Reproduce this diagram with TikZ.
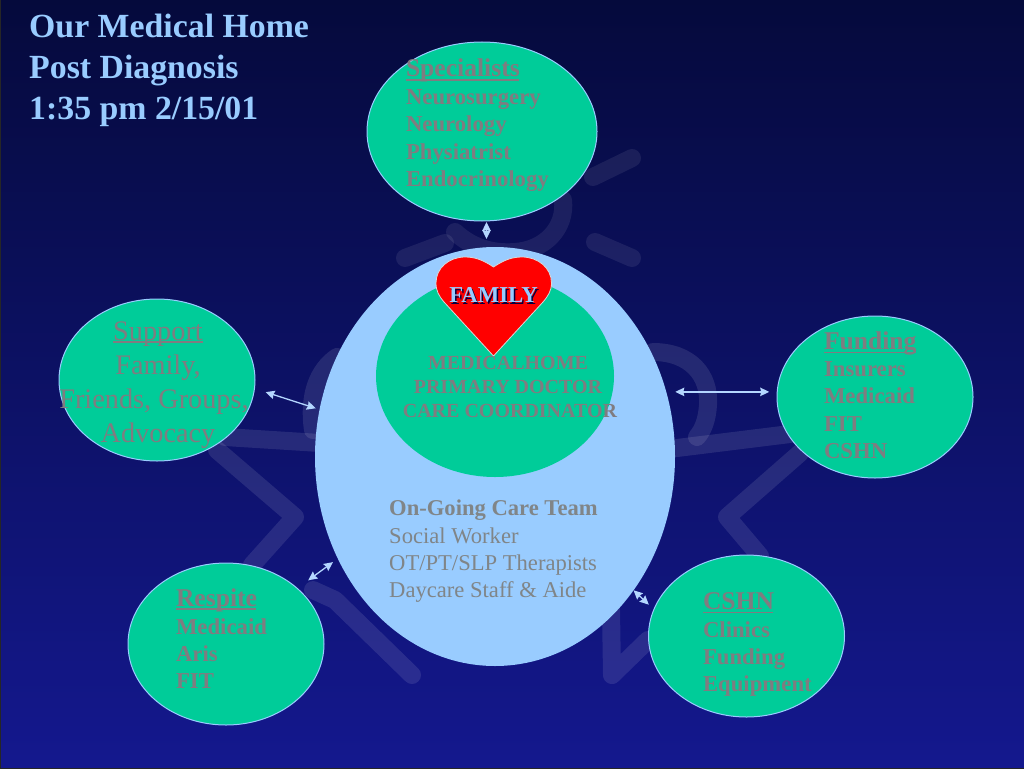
\documentclass[tikz,border=0pt]{standalone}
\usepackage{fontspec}
\setmainfont{Liberation Serif}
\usetikzlibrary{shapes.geometric,arrows.meta}
\definecolor{bgtop}{HTML}{050A3C}
\definecolor{bgmid}{HTML}{10157E}
\definecolor{bgbot}{HTML}{14188E}
\definecolor{teal}{HTML}{00CC99}
\definecolor{sky}{HTML}{99CCFF}
\definecolor{txtgray}{HTML}{807C80}
\definecolor{biggray}{HTML}{808588}
\definecolor{arrowblue}{HTML}{B4D6FF}
\newcommand{\fs}[2]{\fontsize{#1pt}{#2pt}\selectfont}
\tikzset{
  blob/.style={ellipse,draw=sky,line width=1pt,fill=teal,inner sep=0pt,outer sep=0pt},
  smallblob/.style={blob,minimum width=196pt,minimum height=162pt},
  listtext/.style={inner sep=0pt,outer sep=0pt,anchor=north west,align=left,text=txtgray,font=\fs{22.75}{27.3}\bfseries},
  biarrow/.style={draw=arrowblue,line width=1.3pt,{Stealth[length=9pt,width=8.5pt,inset=1pt]}-{Stealth[length=9pt,width=8.5pt,inset=1pt]}},
  ghost/.style={draw=white,draw opacity=.1,line width=18pt,line cap=round,line join=round},
  headrule/.style={draw=txtgray,line width=1.5pt},
}
\begin{document}
\begin{tikzpicture}[x=1pt,y=-1pt]
\useasboundingbox (0,0) rectangle (1024,768);
% background
\shade[top color=bgtop,middle color=bgmid,bottom color=bgbot] (0,0) rectangle (1024,768);
\draw[black!85,line width=1pt] (0,0) rectangle (1024,768);
% watermark figure
\draw[ghost,draw opacity=.08] (563,200) .. controls (566,228) and (545,250) .. (515,252) .. controls (490,254) and (470,246) .. (455,232);
\draw[ghost,draw opacity=.08] (632,158) -- (593,177);
\draw[ghost,draw opacity=.08] (595,242) -- (632,258);
\draw[ghost,draw opacity=.08] (405,258) -- (445,243);
\draw[ghost] (653,352) .. controls (690,352) and (710,375) .. (708,405) .. controls (707,420) and (703,430) .. (697,437);
\draw[ghost] (677,448) -- (790,434);
\draw[ghost] (800,453) -- (727,517) -- (760,556);
\draw[ghost] (337,357) .. controls (318,370) and (308,395) .. (313,430);
\draw[ghost] (225,437) -- (320,443);
\draw[ghost] (217,450) -- (295,517) -- (252,565);
\draw[ghost] (313,590) -- (335,600) -- (412,675);
\draw[ghost] (611,610) -- (612,675) -- (648,640);
% main circles
\node[blob,draw=none,fill=sky,minimum width=360pt,minimum height=419pt] (big) at (495,456.5) {};
\node[blob,draw=none,minimum width=238pt,minimum height=202pt] (medhome) at (495,376) {};
\node[blob,minimum width=230pt,minimum height=179pt] (specialists) at (482,131.5) {};
\node[smallblob] (support) at (157,380) {};
\node[smallblob] (funding) at (875,397) {};
\node[smallblob] (respite) at (226,644) {};
\node[smallblob] (cshn) at (746.5,636) {};
% heart
\filldraw[fill=red,draw=black!15!white,line width=.8pt] (493.5,267)
  .. controls (483,260) and (475,257) .. (465,257)
  .. controls (449,257) and (436,268) .. (436,283)
  .. controls (436,291) and (439,296) .. (444,302)
  -- (493.5,356) -- (543,302)
  .. controls (548,296) and (551.5,291) .. (551.5,283)
  .. controls (551.5,268) and (538,257) .. (522,257)
  .. controls (512,257) and (504,260) .. (493.5,267) -- cycle;
% connectors
\draw[biarrow,shorten <=1pt,shorten >=8pt] ([xshift=4.5pt]specialists.south) -- ([xshift=-8.5pt]big.north);
\draw[biarrow,shorten <=11.7pt,shorten >=4pt] (support.-5.2) -- (big.165.1);
\draw[biarrow,shorten <=8.5pt,shorten >=8pt] (big.20.7 |- funding.177.6) -- (funding.177.6);
\draw[biarrow,shorten <=13.6pt,shorten >=6pt] (respite.38.8) -- (big.213.3);
\draw[biarrow,shorten <=0pt,shorten >=7pt] (big.-44.2) -- (cshn.164.5);
% texts
\node[inner sep=0pt,anchor=north west,align=left,text=sky,font=\fs{33.8}{41}\bfseries] (title) at (29,14) {Our Medical Home\\Post Diagnosis\\1:35 pm 2/15/01};
\node[listtext] (spectext) at (406,58.5) {{\fs{25.6}{27.3}Specialists}\\[1pt]Neurosurgery\\Neurology\\Physiatrist\\Endocrinology};
\node[listtext] (fundtext) at (824,331.5) {{\fs{25.6}{27.3}Funding}\\Insurers\\Medicaid\\FIT\\CSHN};
\node[listtext] (resptext) at (176,589) {{\fs{25.6}{27.3}Respite}\\Medicaid\\Aris\\FIT};
\node[listtext] (cshntext) at (703,593) {{\fs{25.6}{27.3}CSHN}\\Clinics\\Funding\\Equipment};
\node[inner sep=0pt,anchor=north,align=center,text=txtgray,font=\fs{28.3}{34}] (supptext) at (158,322) {Support\\Family,\\Friends, Groups,\kern8pt\\Advocacy};
\node[inner sep=0pt,anchor=north,align=center,text=txtgray,font=\fs{20}{24}\bfseries] (medtext) at (510,356) {MEDICALHOME\kern4pt\\PRIMARY DOCTOR\kern4pt\\CARE COORDINATOR};
\node[inner sep=0pt,anchor=north west,align=left,text=biggray,font=\fs{22.6}{27.3}] (teamtext) at (389,500) {\textbf{On-Going Care Team}\\Social Worker\\OT/PT/SLP Therapists\\Daycare Staff \& Aide};
\node[inner sep=0pt,text=sky,font=\fs{22.75}{24}\bfseries] (family) at (493.5,296) {\rlap{\kern1.5pt\raisebox{-1.5pt}{\textcolor{black!75!blue}{FAMILY}}}FAMILY};
% heading underlines
\draw[headrule] (406,80) -- (519,80);
\draw[headrule] (113,342) -- (203,342);
\draw[headrule] (824,352.7) -- (916,352.7);
\draw[headrule] (176,609) -- (256,609);
\draw[headrule] (703,612.7) -- (773,612.7);
\end{tikzpicture}
\end{document}
